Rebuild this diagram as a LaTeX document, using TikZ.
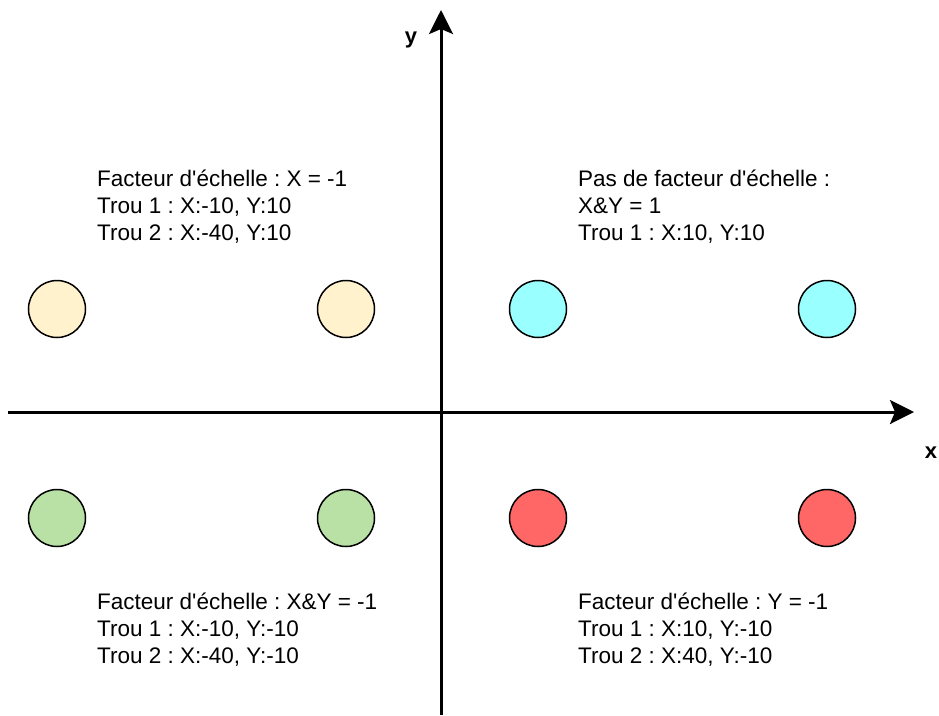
\documentclass[tikz,border=0pt]{standalone}
\usepackage{fontspec}
\setmainfont{Liberation Sans}
\usetikzlibrary{arrows.meta}
\frenchspacing
\newcommand{\apos}{\textquotesingle}
\tikzset{
  axis/.style={line width=3pt,-{Stealth[length=24pt,width=24pt,inset=5pt]}},
  hole/.style={circle,draw=black,line width=1.5pt,minimum size=57pt,inner sep=0pt},
  info/.style={anchor=base west,align=left,inner sep=0pt,font=\fontsize{22.5}{27}\selectfont},
  axlabel/.style={font=\fontsize{22}{26}\selectfont\bfseries,inner sep=0pt}
}
\definecolor{tan}{HTML}{FFF2CC}
\definecolor{cyanh}{HTML}{99FFFF}
\definecolor{greenh}{HTML}{B9E0A5}
\definecolor{redh}{HTML}{FF6666}
\begin{document}
\begin{tikzpicture}[x=1pt,y=-1pt]
\useasboundingbox (0,0) rectangle (939,715);
\coordinate (ybot) at (441,715);
\coordinate (ytop) at (441,10);
\coordinate (xleft) at (8,412);
\coordinate (xright) at (914,412);
\draw[axis] (ybot) -- (ytop);
\draw[axis] (xleft) -- (xright);
\node[axlabel] (ylab) at (411,40) {y};
\node[axlabel] (xlab) at (931,453) {x};
% holes
\node[hole,fill=tan] (t1) at (57,309) {};
\node[hole,fill=tan] (t2) at (346,309) {};
\node[hole,fill=cyanh] (c1) at (538,309) {};
\node[hole,fill=cyanh] (c2) at (827,309) {};
\node[hole,fill=greenh] (g1) at (57,518) {};
\node[hole,fill=greenh] (g2) at (346,518) {};
\node[hole,fill=redh] (r1) at (538,518) {};
\node[hole,fill=redh] (r2) at (827,518) {};
% texts
\node[info] (tl) at (97,240) {Facteur d\apos échelle : X = -1\\Trou 1 : X:-10, Y:10\\Trou 2 : X:-40, Y:10};
\node[info] (tr) at (578,240) {Pas de facteur d\apos échelle :\\X\&Y = 1\\Trou 1 : X:10, Y:10};
\node[info] (bl) at (97,663) {Facteur d\apos échelle : X\&Y = -1\\Trou 1 : X:-10, Y:-10\\Trou 2 : X:-40, Y:-10};
\node[info] (br) at (578,663) {Facteur d\apos échelle : Y = -1\\Trou 1 : X:10, Y:-10\\Trou 2 : X:40, Y:-10};
\end{tikzpicture}
\end{document}
